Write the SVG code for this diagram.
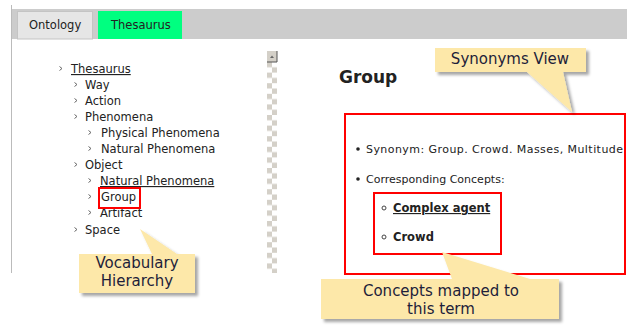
<svg xmlns="http://www.w3.org/2000/svg" width="627" height="325" viewBox="0 0 627 325">
<style>
.t{font-family:"DejaVu Sans",Verdana,sans-serif;font-size:11.5px;fill:#222}
.b{font-family:"DejaVu Sans",Verdana,sans-serif;font-size:11.5px;font-weight:bold;fill:#222}
.c{font-family:"DejaVu Sans",Verdana,sans-serif;font-size:15px;fill:#1e1e3a;text-anchor:middle}
.co{fill:#fde8a9;filter:url(#sh)}
.red{fill:none;stroke:#ff0000;stroke-width:2}
.chev{fill:none;stroke:#666;stroke-width:1}
</style>
<defs>
<filter id="sh" x="-10%" y="-10%" width="130%" height="140%">
<feDropShadow dx="3" dy="3" stdDeviation="1.5" flood-color="#000" flood-opacity="0.35"/>
</filter>
<pattern id="chk" x="267" y="62" width="10" height="10.6" patternUnits="userSpaceOnUse">
<rect width="10" height="10.6" fill="#ffffff"/>
<rect x="0" y="0" width="5" height="5.3" fill="#d4d0c8"/>
<rect x="5" y="5.3" width="5" height="5.3" fill="#d4d0c8"/>
</pattern>
</defs>
<rect width="627" height="325" fill="#ffffff"/>

<g id="frame">
<line x1="11.5" y1="5" x2="11.5" y2="273" stroke="#bbbbbb" stroke-width="1"/>
<rect x="12" y="9" width="615" height="30" fill="#cccccc"/>
</g>

<g id="tab-ontology">
<rect x="17.5" y="11.5" width="75" height="27.5" fill="#e6e6e6" stroke="#c4c4c4"/>
<text class="t" x="29" y="29">Ontology</text>
</g>
<g id="tab-thesaurus">
<rect x="98" y="11" width="84" height="28" fill="#00ff80"/>
<text class="t" x="111" y="29">Thesaurus</text>
</g>

<g id="scrollbar">
<rect x="267" y="62" width="10" height="211" fill="url(#chk)"/>
<rect x="267" y="51" width="10" height="11" fill="#d4d0c8"/>
<path d="M277,51 V62 H267" fill="none" stroke="#555" stroke-width="1"/>
<path d="M270,58 L272,55.5 L274,58 Z" fill="#666"/>
</g>

<g id="tree">
<path class="chev" d="M59.5,66.5 L62,68.5 L59.5,70.5"/>
<text class="t" x="71" y="73" text-decoration="underline">Thesaurus</text>
<path class="chev" d="M74.5,82.5 L77,84.5 L74.5,86.5"/>
<text class="t" x="85" y="89">Way</text>
<path class="chev" d="M74.5,98.5 L77,100.5 L74.5,102.5"/>
<text class="t" x="85" y="105">Action</text>
<path class="chev" d="M74.5,114.5 L77,116.5 L74.5,118.5"/>
<text class="t" x="85" y="121">Phenomena</text>
<path class="chev" d="M88.5,130.5 L91,132.5 L88.5,134.5"/>
<text class="t" x="101" y="137">Physical Phenomena</text>
<path class="chev" d="M88.5,146.5 L91,148.5 L88.5,150.5"/>
<text class="t" x="101" y="153">Natural Phenomena</text>
<path class="chev" d="M74.5,162.5 L77,164.5 L74.5,166.5"/>
<text class="t" x="85" y="169">Object</text>
<path class="chev" d="M88.5,178.5 L91,180.5 L88.5,182.5"/>
<text class="t" x="100" y="185" text-decoration="underline">Natural Phenomena</text>
<path class="chev" d="M88.5,194.5 L91,196.5 L88.5,198.5"/>
<text class="t" x="101" y="201">Group</text>
<path class="chev" d="M88.5,210.5 L91,212.5 L88.5,214.5"/>
<text class="t" x="100" y="217">Artifact</text>
<path class="chev" d="M74.5,227.5 L77,229.5 L74.5,231.5"/>
<text class="t" x="85" y="234">Space</text>
<rect class="red" x="99" y="188" width="41" height="20"/>
</g>

<g id="synonyms-panel">
<text class="b" x="339" y="83" style="font-size:17px">Group</text>
<rect class="red" x="345" y="114" width="280" height="160"/>
<circle cx="358" cy="149" r="1.8" fill="#222"/>
<text class="t" x="366" y="153" style="font-size:11px" textLength="257" lengthAdjust="spacing">Synonym: Group. Crowd. Masses, Multitude</text>
<circle cx="358" cy="179" r="1.8" fill="#222"/>
<text class="t" x="366" y="183" style="font-size:11px">Corresponding Concepts:</text>
<rect class="red" x="374" y="193" width="127" height="61"/>
<circle cx="384" cy="208" r="2" fill="none" stroke="#444" stroke-width="1"/>
<text class="b" x="393" y="212" text-decoration="underline">Complex agent</text>
<circle cx="384" cy="237" r="2" fill="none" stroke="#444" stroke-width="1"/>
<text class="b" x="393" y="241">Crowd</text>
</g>

<g id="callout-vocabulary">
<path class="co" d="M79,254 L152,254 L140,229 L177,254 L195,254 L195,293 L79,293 Z"/>
<text class="c" x="137" y="268">Vocabulary</text>
<text class="c" x="137" y="286">Hierarchy</text>
</g>

<g id="callout-synonyms">
<path class="co" d="M435,48 L586,48 L586,72 L563,72 L572,112 L527,72 L435,72 Z"/>
<text class="c" x="510" y="64">Synonyms View</text>
</g>

<g id="callout-concepts">
<path class="co" d="M321,279 L452,279 L442,252 L530,279 L559,279 L559,319 L321,319 Z"/>
<text class="c" x="441" y="296">Concepts mapped to</text>
<text class="c" x="441" y="314">this term</text>
</g>

<g id="connectors"></g>
</svg>
